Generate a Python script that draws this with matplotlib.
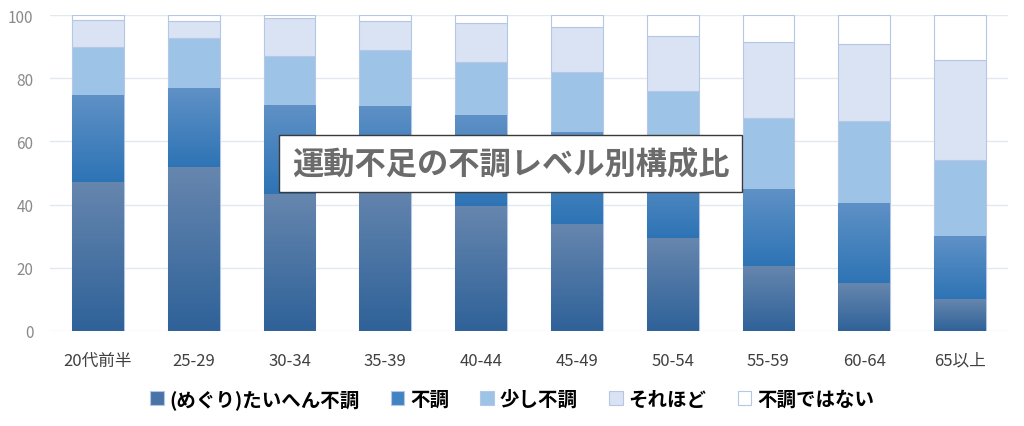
import numpy as np
import matplotlib
matplotlib.use("Agg")
import matplotlib.pyplot as plt
from matplotlib.colors import LinearSegmentedColormap

plt.rcParams["font.family"] = ["Noto Sans CJK JP", "DejaVu Sans"]

# =====================================================
# DATA
# =====================================================

categories = ["20代前半", "25-29", "30-34", "35-39", "40-44",
              "45-49", "50-54", "55-59", "60-64", "65以上"]

levels = ["(めぐり)たいへん不調", "不調", "少し不調", "それほど", "不調ではない"]

very_bad = [47.2, 51.8, 43.4, 47.0, 39.5, 34.0, 29.4, 20.6, 15.1, 10.1]
bad = [27.6, 25.0, 28.1, 24.1, 28.8, 28.9, 23.6, 24.2, 25.4, 19.9]
slightly = [15.0, 15.9, 15.4, 17.9, 16.7, 19.1, 22.8, 22.5, 25.9, 24.2]
not_much = [8.6, 5.3, 12.0, 9.0, 12.5, 14.2, 17.4, 24.2, 24.4, 31.6]
fine = [1.6, 2.0, 1.1, 2.0, 2.5, 3.8, 6.8, 8.5, 9.2, 14.2]

series = [very_bad, bad, slightly, not_much, fine]

# colours: (top of gradient, bottom of gradient)
grads = [("#6686ae", "#2f6299"), ("#5f91c6", "#2e74b5"), None, None, None]
solid = ["#4a73a6", "#4283c2", "#9dc3e6", "#dae3f3", "#ffffff"]
edge = "#b4c7e7"

# =====================================================
# PLOT
# =====================================================

fig = plt.figure(figsize=(10.24, 4.27), dpi=100)
ax = fig.add_axes([0.0488, 0.2225, 0.9355, 0.74])

x = np.arange(len(categories))
width = 0.54
bottom = np.zeros(len(categories))

for vals, col, g in zip(series, solid, grads):
    bars = ax.bar(x, vals, width, bottom=bottom, color=col,
                  edgecolor=edge, linewidth=0.8, zorder=3)
    if g is not None:
        cmap = LinearSegmentedColormap.from_list("g", [g[1], g[0]])
        grad = np.linspace(0, 1, 64).reshape(-1, 1)
        for b in bars:
            x0, y0 = b.get_x(), b.get_y()
            im = ax.imshow(grad, cmap=cmap, origin="lower", aspect="auto",
                           extent=(x0, x0 + b.get_width(), y0, y0 + b.get_height()),
                           zorder=3.5)
            im.set_clip_path(b)
    bottom += np.array(vals)

# legend handles (solid)
handles = [plt.Rectangle((0, 0), 1, 1, facecolor=c, edgecolor=edge, linewidth=0.8)
           for c in solid]

ax.set_xlim(-0.5, len(categories) - 0.5)
ax.set_ylim(0, 100)
ax.set_yticks(range(0, 101, 20))
ax.yaxis.grid(True, color="#e3e7ee", linewidth=1.0, zorder=0)
ax.set_axisbelow(True)
for s in ax.spines.values():
    s.set_visible(False)
ax.tick_params(axis="both", length=0)
ax.tick_params(axis="y", labelsize=11, labelcolor="#8a8a8a", pad=12)
ax.tick_params(axis="x", labelsize=12, labelcolor="#404040", pad=15)
ax.set_xticks(x)
ax.set_xticklabels(categories)

fig.legend(handles, levels, loc="center", bbox_to_anchor=(0.5, 0.063),
           ncol=5, frameon=False, handlelength=0.7,
           handleheight=0.7, handletextpad=0.3, columnspacing=1.6,
           prop={"weight": "bold", "size": 14})

# title box
fig.text(0.4985, 0.6136, "運動不足の不調レベル別構成比", ha="center", va="center",
         fontsize=22.5, color="#6b6b6b", fontweight="bold",
         bbox=dict(boxstyle="square,pad=0.4", facecolor="white",
                   edgecolor="#3a3a3a", linewidth=1.0), zorder=10)

plt.savefig("out.png", dpi=100)
